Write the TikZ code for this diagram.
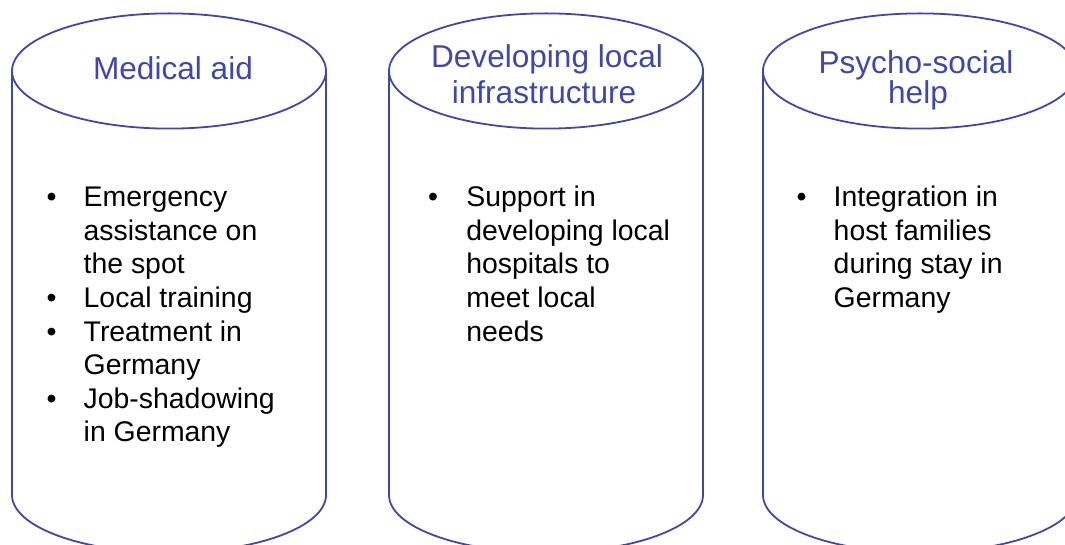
\documentclass[tikz,border=0pt]{standalone}
\usepackage{fontspec}
\setmainfont{Liberation Sans}
\definecolor{cylblue}{RGB}{63,72,170}
\begin{document}
\begin{tikzpicture}[x=0.5pt,y=-0.5pt,
  cyl/.style={draw=cylblue,line width=0.9pt},
  title/.style={text=cylblue,font=\fontsize{15.8}{19}\selectfont,anchor=base,inner sep=0pt},
  body/.style={text=black,font=\fontsize{14.2}{16.8}\selectfont,anchor=base west,inner sep=0pt},
  bul/.style={text=black,font=\fontsize{14.2}{16.8}\selectfont,anchor=base,inner sep=0pt}]
\useasboundingbox (0,0) rectangle (1065,545);
\clip (0,0) rectangle (1065,545);
% cylinders
\foreach \cx in {169,546,920}{
  \draw[cyl] (\cx,71) ellipse [x radius=157, y radius=57.6];
  \draw[cyl] (\cx-157,71) -- (\cx-157,495) arc[start angle=180, end angle=360, x radius=157, y radius=-57.6] -- (\cx+157,71);
}
% titles
\node[title] (t1) at (173,79.3) {Medical aid};
\node[title] (t2a) at (547,67.3) {Developing local};
\node[title] (t2b) at (544,104) {infrastructure};
\node[title] (t3a) at (916,74) {Psycho-social};
\node[title] (t3b) at (918,104) {help};
% left column
\node[bul] (b11) at (51.7,206.7) {•};
\node[body] (l1) at (83.3,206.7) {Emergency};
\node[body] (l2) at (83.3,240.3) {assistance on};
\node[body] (l3) at (83.3,273.9) {the spot};
\node[bul] (b12) at (51.7,307.5) {•};
\node[body] (l4) at (83.3,307.5) {Local training};
\node[bul] (b13) at (51.7,341.1) {•};
\node[body] (l5) at (83.3,341.1) {Treatment in};
\node[body] (l6) at (83.3,374.7) {Germany};
\node[bul] (b14) at (51.7,408.3) {•};
\node[body] (l7) at (83.3,408.3) {Job-shadowing};
\node[body] (l8) at (83.3,441.9) {in Germany};
% middle column
\node[bul] (b21) at (433,206.7) {•};
\node[body] (m1) at (466,206.7) {Support in};
\node[body] (m2) at (466,240.3) {developing local};
\node[body] (m3) at (466,273.9) {hospitals to};
\node[body] (m4) at (466,307.5) {meet local};
\node[body] (m5) at (466,341.1) {needs};
% right column
\node[bul] (b31) at (801.7,206.7) {•};
\node[body] (r1) at (833.3,206.7) {Integration in};
\node[body] (r2) at (833.3,240.3) {host families};
\node[body] (r3) at (833.3,273.9) {during stay in};
\node[body] (r4) at (833.3,307.5) {Germany};
\end{tikzpicture}
\end{document}
